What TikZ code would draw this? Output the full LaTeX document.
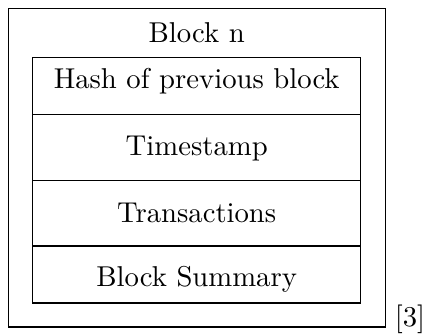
\documentclass[tikz,border=0pt]{standalone}
\usepackage{graphicx}
\newcommand{\bigtxt}[1]{\scalebox{2.87}{#1}}
\begin{document}
\begin{tikzpicture}[x=1pt,y=-1pt,
  frame/.style={draw=black,line width=1.1pt},
  rowbox/.style={draw=black,line width=1.1pt,rectangle,minimum width=328pt,inner sep=0pt,outer sep=0pt},
  txt/.style={anchor=base,inner sep=0pt}]
\useasboundingbox (0,0) rectangle (425,334);
\node[frame,rectangle,minimum width=377pt,minimum height=318.7pt,inner sep=0pt,outer sep=0pt] (outer) at (196.9,167.6) {};
\node[txt] (title) at (196.7,42.7) {\bigtxt{Block n}};
\node[rowbox,minimum height=57pt] (r1) at (196.7,86.2) {};
\node[rowbox,minimum height=66pt] (r2) at (196.7,147.7) {};
\node[rowbox,minimum height=65.3pt] (r3) at (196.7,213.35) {};
\node[rowbox,minimum height=57pt] (r4) at (196.7,274.5) {};
\node[txt] (t1) at (196.7,88.3) {\bigtxt{Hash of previous block}};
\node[txt] (t2) at (196.7,155.7) {\bigtxt{Timestamp}};
\node[txt] (t3) at (196.7,222.7) {\bigtxt{Transactions}};
\node[txt] (t4) at (196.7,286) {\bigtxt{Block Summary}};
\node[txt] (ref) at (410,326) {\bigtxt{[3]}};
\end{tikzpicture}
\end{document}
